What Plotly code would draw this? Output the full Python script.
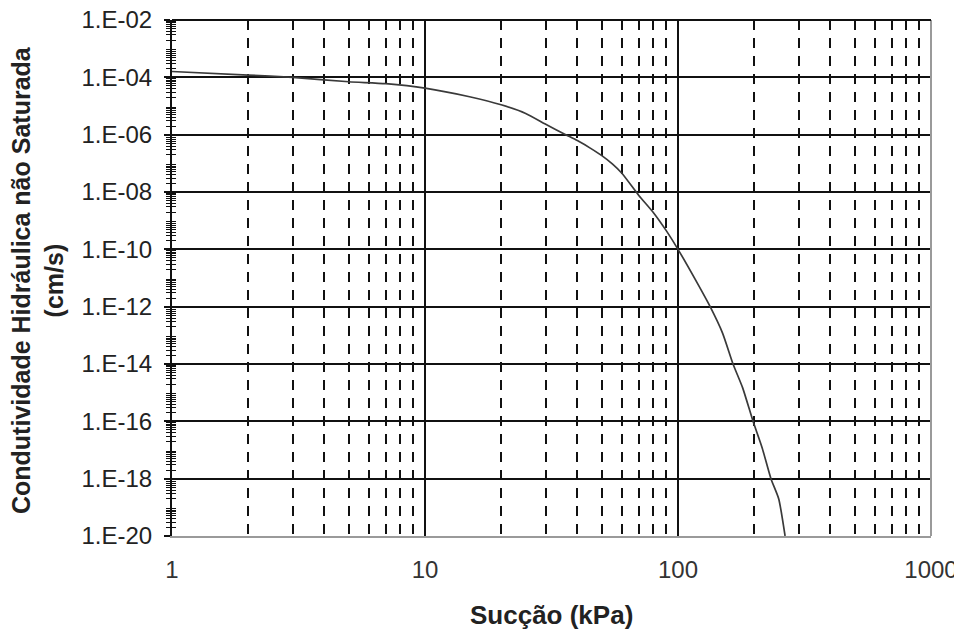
import plotly.graph_objects as go

# Data
succao_kpa = [1, 2, 3, 5, 7, 10, 15, 20, 25, 30, 36, 40, 45, 50, 55, 60, 70, 80,
              90, 100, 120, 134, 150, 165, 180, 198, 215, 233, 250, 265]
condutividade = [1.6e-4, 1.2e-4, 1.0e-4, 7.0e-5, 6.0e-5, 4.2e-5, 2.1e-5, 1.1e-5,
                 5.5e-6, 2.3e-6, 1.0e-6, 6.2e-7, 3.4e-7, 1.85e-7, 9.5e-8, 4.5e-8,
                 7.6e-9, 1.9e-9, 4.4e-10, 1.0e-10, 6.0e-12, 1.0e-12, 1.2e-13,
                 1.0e-14, 1.5e-15, 1.0e-16, 1.2e-17, 1.0e-18, 2.0e-19, 1.0e-20]

x_tickvals = [1, 10, 100, 1000]
x_ticktext = ["1", "10", "100", "1000"]
y_tickvals = [1e-2, 1e-4, 1e-6, 1e-8, 1e-10, 1e-12, 1e-14, 1e-16, 1e-18, 1e-20]
y_ticktext = ["1.E-02", "1.E-04", "1.E-06", "1.E-08", "1.E-10",
              "1.E-12", "1.E-14", "1.E-16", "1.E-18", "1.E-20"]

x_title = "Sucção (kPa)"
y_title_1 = "Condutividade Hidráulica não Saturada"
y_title_2 = "(cm/s)"

# minor tick / grid positions (log-axis digits 2..9 within each decade)
x_minor = [d * 10 ** k for k in range(0, 3) for d in range(2, 10)]
y_minor = [d * 10.0 ** k for k in range(-20, -2) for d in range(2, 10)]

FONT = "Liberation Sans, Arial, sans-serif"

fig = go.Figure()
fig.add_trace(go.Scatter(
    x=succao_kpa, y=condutividade, mode="lines",
    line=dict(color="#3a3a3a", width=1.7, shape="spline", smoothing=0.6),
    showlegend=False, hoverinfo="x+y",
))
# invisible copy on overlaying axis (used to draw inside ticks -> crossing ticks)
fig.add_trace(go.Scatter(
    x=succao_kpa, y=condutividade, mode="lines", yaxis="y2",
    line=dict(color="rgba(0,0,0,0)", width=0),
    showlegend=False, hoverinfo="skip",
))

# the page body has an 8px default margin -> figure is 8px smaller / shifted
fig.update_layout(
    width=954, height=631,
    margin=dict(l=164, r=31, t=12, b=103, autoexpand=False),
    paper_bgcolor="white", plot_bgcolor="white",
    font=dict(family=FONT, color="#222222"),
    xaxis=dict(
        type="log", range=[0, 3], automargin=False,
        tickmode="array", tickvals=x_tickvals, ticktext=x_ticktext,
        tickfont=dict(size=24, color="#333333"),
        ticks="", ticklabelstandoff=11, ticklabeloverflow="allow",
        showgrid=True, gridcolor="#111111", gridwidth=1.6,
        showline=True, linecolor="#9a9a9a", linewidth=2,
        zeroline=False,
        minor=dict(tickmode="array", tickvals=x_minor, ticks="",
                   showgrid=True, gridcolor="#111111", gridwidth=1.6,
                   griddash="10px,8px"),
    ),
    yaxis=dict(
        type="log", range=[-20, -2], automargin=False,
        tickmode="array", tickvals=y_tickvals, ticktext=y_ticktext,
        tickfont=dict(size=24, color="#222222"),
        ticks="outside", ticklen=6, tickwidth=1.6, tickcolor="#111111",
        ticklabelstandoff=7, ticklabeloverflow="allow",
        showgrid=True, gridcolor="#111111", gridwidth=1.6,
        showline=True, linecolor="#111111", linewidth=2,
        zeroline=False,
        minor=dict(tickmode="array", tickvals=y_minor, ticks="outside",
                   ticklen=4, tickwidth=1.4, tickcolor="#111111",
                   showgrid=False),
    ),
    yaxis2=dict(
        type="log", range=[-20, -2], overlaying="y", side="left",
        automargin=False,
        tickmode="array", tickvals=y_tickvals, showticklabels=False,
        ticks="inside", ticklen=6, tickwidth=1.6, tickcolor="#111111",
        showgrid=False, zeroline=False, showline=False,
        minor=dict(tickmode="array", tickvals=y_minor, ticks="inside",
                   ticklen=4, tickwidth=1.4, tickcolor="#111111",
                   showgrid=False),
    ),
    shapes=[
        dict(type="line", xref="paper", yref="paper",
             x0=1, x1=1, y0=0, y1=1, layer="above",
             line=dict(color="#9a9a9a", width=2)),
        dict(type="line", xref="paper", yref="paper",
             x0=0, x1=1, y0=1, y1=1, layer="above",
             line=dict(color="#111111", width=1.8)),
    ],
    annotations=[
        dict(text=x_title, xref="paper", yref="paper", x=0.5, y=-0.153,
             xanchor="center", yanchor="middle", showarrow=False,
             font=dict(size=26, family=FONT, color="#222222", weight="bold")),
        dict(text=y_title_1, xref="paper", yref="paper", x=-0.199, y=0.496,
             xanchor="center", yanchor="middle", showarrow=False, textangle=-90,
             font=dict(size=25, family=FONT, color="#222222", weight="bold")),
        dict(text=y_title_2, xref="paper", yref="paper", x=-0.155, y=0.496,
             xanchor="center", yanchor="middle", showarrow=False, textangle=-90,
             font=dict(size=25, family=FONT, color="#222222", weight="bold")),
    ],
)

fig.write_html("out.html")
